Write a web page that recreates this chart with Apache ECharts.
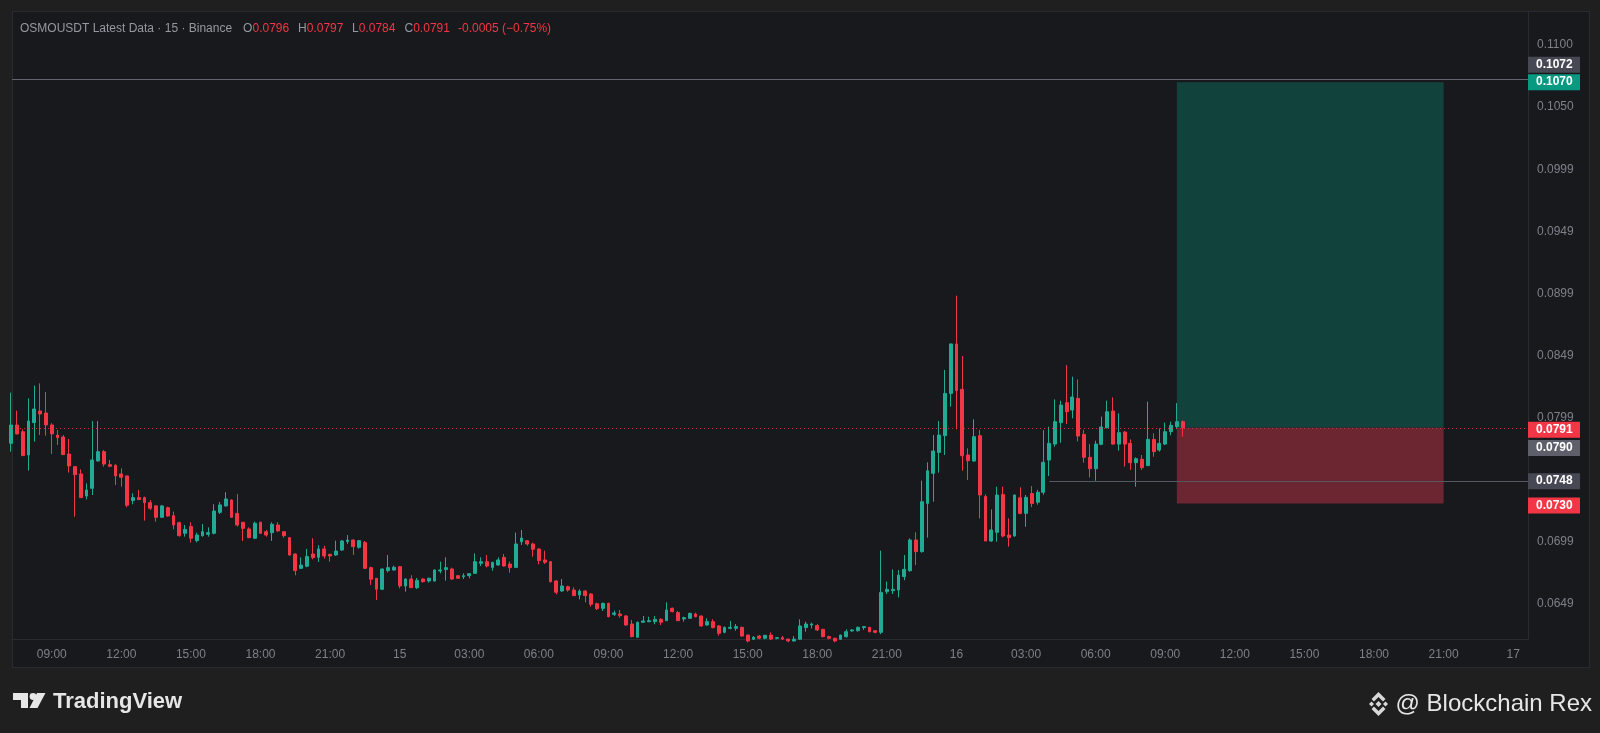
<!DOCTYPE html>
<html><head><meta charset="utf-8">
<script src="https://cdn.jsdelivr.net/npm/echarts@6/dist/echarts.min.js"></script>
<style>
html,body{margin:0;padding:0;background:#1f1f1f;}
#frame{position:absolute;left:12px;top:11px;width:1578px;height:657px;box-sizing:border-box;background:#18191d;border:1px solid #2a2b30;}
#c{position:absolute;left:0;top:0;width:1600px;height:733px;}
</style>
</head><body><div id="frame"></div><div id="c"></div>
<script>
// 15-minute slots counted from 00:00 on the 14th; first candle = 07:15 on the 14th
const firstSlot = 29;
const opens = [
0.07785,0.07933,0.07879,0.07691,0.07952,0.08046,0.08030,0.07933,0.07852,0.07836,
0.07699,0.07597,0.07538,0.07360,0.07422,0.07643,0.07718,0.07613,0.07608,0.07538,
0.07522,0.07323,0.07347,0.07347,0.07306,0.07280,0.07188,0.07266,0.07201,0.07145,
0.07059,0.07113,0.07000,0.07040,0.07051,0.07059,0.07228,0.07280,0.07328,0.07220,
0.07148,0.07094,0.07019,0.07148,0.07072,0.07064,0.07126,0.07072,0.07024,0.06892,
0.06776,0.06793,0.06892,0.06865,0.06933,0.06890,0.06884,0.06924,0.06992,0.07005,
0.06946,0.06984,0.06782,0.06696,0.06607,0.06758,0.06763,0.06790,0.06634,0.06690,
0.06620,0.06690,0.06674,0.06674,0.06755,0.06766,0.06771,0.06717,0.06709,0.06717,
0.06736,0.06817,0.06830,0.06784,0.06803,0.06865,0.06811,0.06784,0.06991,0.06999,
0.06973,0.06932,0.06844,0.06830,0.06674,0.06593,0.06628,0.06601,0.06561,0.06593,
0.06569,0.06491,0.06453,0.06494,0.06405,0.06408,0.06392,0.06327,0.06220,0.06341,
0.06346,0.06346,0.06365,0.06354,0.06454,0.06419,0.06368,0.06373,0.06408,0.06392,
0.06319,0.06346,0.06311,0.06260,0.06292,0.06292,0.06300,0.06238,0.06204,0.06230,
0.06212,0.06238,0.06212,0.06217,0.06205,0.06190,0.06204,0.06298,0.06319,0.06314,
0.06284,0.06225,0.06212,0.06204,0.06225,0.06271,0.06273,0.06298,0.06300,0.06273,
0.06260,0.06588,0.06596,0.06601,0.06709,0.06757,0.07005,0.06911,0.07300,0.07543,
0.07712,0.07847,0.08188,0.08587,0.08221,0.07691,0.07642,0.07847,0.07355,0.06997,
0.07067,0.07373,0.07045,0.07037,0.07346,0.07220,0.07380,0.07310,0.07390,0.07650,
0.07779,0.07952,0.08113,0.08054,0.08148,0.07857,0.07672,0.07580,0.07777,0.07911,
0.08046,0.07779,0.07876,0.07785,0.07629,0.07656,0.07605,0.07817,0.07731,0.07779,
0.07880,0.07920,0.07960];
const closes = [
0.07933,0.07861,0.07686,0.07965,0.08062,0.08022,0.07933,0.07861,0.07831,0.07694,
0.07602,0.07532,0.07347,0.07409,0.07651,0.07718,0.07618,0.07600,0.07522,0.07511,
0.07285,0.07347,0.07331,0.07306,0.07261,0.07188,0.07280,0.07199,0.07126,0.07040,
0.07091,0.07019,0.07045,0.07072,0.07064,0.07239,0.07288,0.07336,0.07188,0.07126,
0.07099,0.07024,0.07140,0.07059,0.07045,0.07132,0.07078,0.07040,0.06884,0.06758,
0.06803,0.06871,0.06863,0.06933,0.06876,0.06876,0.06916,0.06997,0.07005,0.06951,
0.07000,0.06776,0.06688,0.06607,0.06771,0.06782,0.06785,0.06634,0.06690,0.06620,
0.06679,0.06669,0.06696,0.06763,0.06763,0.06782,0.06690,0.06696,0.06717,0.06733,
0.06830,0.06830,0.06795,0.06825,0.06844,0.06795,0.06782,0.06973,0.07021,0.06973,
0.06930,0.06838,0.06825,0.06669,0.06583,0.06634,0.06601,0.06556,0.06593,0.06556,
0.06486,0.06451,0.06494,0.06386,0.06416,0.06395,0.06319,0.06225,0.06341,0.06352,
0.06354,0.06365,0.06341,0.06440,0.06427,0.06354,0.06378,0.06413,0.06386,0.06311,
0.06346,0.06298,0.06252,0.06300,0.06300,0.06306,0.06230,0.06190,0.06220,0.06212,
0.06236,0.06206,0.06217,0.06206,0.06190,0.06205,0.06311,0.06327,0.06327,0.06279,
0.06225,0.06212,0.06190,0.06238,0.06265,0.06279,0.06300,0.06306,0.06265,0.06260,
0.06582,0.06607,0.06607,0.06722,0.06768,0.07005,0.06911,0.07314,0.07564,0.07723,
0.07852,0.08188,0.08587,0.08210,0.07685,0.07645,0.07839,0.07368,0.06997,0.07086,
0.07368,0.07037,0.07024,0.07368,0.07220,0.07349,0.07300,0.07390,0.07632,0.07785,
0.07960,0.08094,0.08040,0.08159,0.07844,0.07672,0.07580,0.07779,0.07917,0.08040,
0.07779,0.07871,0.07779,0.07629,0.07661,0.07588,0.07817,0.07718,0.07785,0.07879,
0.07930,0.07960,0.07910];
const lows = [
0.07718,0.07858,0.07684,0.07565,0.07799,0.07852,0.07847,0.07699,0.07772,0.07692,
0.07549,0.07193,0.07345,0.07333,0.07368,0.07637,0.07597,0.07592,0.07449,0.07436,
0.07269,0.07293,0.07328,0.07161,0.07247,0.07153,0.07185,0.07193,0.07091,0.07032,
0.07032,0.06984,0.06986,0.07032,0.07032,0.07051,0.07215,0.07274,0.07185,0.07113,
0.06997,0.07019,0.07013,0.07054,0.07032,0.06997,0.07072,0.07024,0.06876,0.06720,
0.06771,0.06785,0.06849,0.06828,0.06855,0.06830,0.06876,0.06916,0.06973,0.06884,
0.06935,0.06771,0.06642,0.06521,0.06602,0.06744,0.06758,0.06615,0.06588,0.06618,
0.06609,0.06661,0.06661,0.06669,0.06736,0.06677,0.06682,0.06694,0.06690,0.06696,
0.06731,0.06795,0.06784,0.06757,0.06798,0.06790,0.06741,0.06782,0.06965,0.06959,
0.06870,0.06809,0.06811,0.06661,0.06566,0.06588,0.06588,0.06553,0.06526,0.06502,
0.06467,0.06440,0.06432,0.06381,0.06392,0.06378,0.06311,0.06220,0.06217,0.06338,
0.06341,0.06325,0.06319,0.06352,0.06421,0.06352,0.06346,0.06368,0.06381,0.06306,
0.06314,0.06292,0.06233,0.06252,0.06284,0.06273,0.06225,0.06179,0.06198,0.06204,
0.06204,0.06198,0.06204,0.06198,0.06180,0.06185,0.06198,0.06265,0.06292,0.06271,
0.06220,0.06204,0.06180,0.06198,0.06217,0.06265,0.06265,0.06279,0.06260,0.06252,
0.06245,0.06569,0.06569,0.06542,0.06680,0.06749,0.06803,0.06903,0.07024,0.07314,
0.07548,0.07691,0.08081,0.07898,0.07564,0.07489,0.07637,0.07180,0.06995,0.06991,
0.06991,0.07026,0.06951,0.07032,0.07212,0.07112,0.07270,0.07290,0.07370,0.07521,
0.07758,0.07790,0.07941,0.07987,0.07800,0.07629,0.07510,0.07483,0.07771,0.07906,
0.07774,0.07726,0.07597,0.07570,0.07435,0.07570,0.07602,0.07677,0.07718,0.07771,
0.07850,0.07900,0.07840];
const highs = [
0.08194,0.08049,0.07898,0.08148,0.08251,0.08269,0.08200,0.07947,0.07893,0.07852,
0.07820,0.07602,0.07575,0.07462,0.07965,0.07965,0.07731,0.07651,0.07616,0.07583,
0.07524,0.07382,0.07409,0.07355,0.07328,0.07288,0.07288,0.07274,0.07234,0.07153,
0.07126,0.07148,0.07064,0.07134,0.07107,0.07293,0.07312,0.07390,0.07333,0.07376,
0.07150,0.07107,0.07153,0.07153,0.07086,0.07148,0.07148,0.07074,0.07026,0.06898,
0.06865,0.06933,0.07019,0.06962,0.06957,0.06892,0.07000,0.07005,0.07045,0.07010,
0.07005,0.06997,0.06790,0.06698,0.06776,0.06884,0.06798,0.06795,0.06696,0.06720,
0.06698,0.06696,0.06701,0.06768,0.06830,0.06865,0.06782,0.06719,0.06736,0.06736,
0.06897,0.06865,0.06884,0.06827,0.06865,0.06892,0.06830,0.07064,0.07086,0.07005,
0.06983,0.06938,0.06919,0.06835,0.06682,0.06690,0.06636,0.06623,0.06607,0.06601,
0.06576,0.06499,0.06499,0.06499,0.06435,0.06440,0.06400,0.06360,0.06346,0.06392,
0.06386,0.06392,0.06373,0.06502,0.06459,0.06432,0.06386,0.06419,0.06419,0.06394,
0.06373,0.06365,0.06319,0.06306,0.06352,0.06327,0.06306,0.06240,0.06230,0.06238,
0.06238,0.06260,0.06220,0.06230,0.06208,0.06230,0.06365,0.06346,0.06338,0.06327,
0.06286,0.06233,0.06215,0.06240,0.06284,0.06284,0.06306,0.06311,0.06302,0.06279,
0.06919,0.06669,0.06768,0.06763,0.06884,0.07018,0.07067,0.07484,0.07632,0.07852,
0.07965,0.08377,0.08590,0.08977,0.08490,0.07745,0.07979,0.07893,0.07373,0.07252,
0.07435,0.07435,0.07180,0.07373,0.07430,0.07368,0.07440,0.07410,0.07892,0.07919,
0.08140,0.08129,0.08417,0.08323,0.08301,0.07892,0.07779,0.07806,0.08000,0.08129,
0.08156,0.08027,0.07884,0.07817,0.07672,0.07691,0.08121,0.07866,0.07906,0.07952,
0.07960,0.08110,0.07970];

const timeTickSlots = [36,48,60,72,84,96,108,120,132,144,156,168,180,192,204,216,228,240,252,264,276,288];
const timeTickLabels = ['09:00','12:00','15:00','18:00','21:00','15','03:00','06:00','09:00','12:00','15:00','18:00','21:00','16','03:00','06:00','09:00','12:00','15:00','18:00','21:00','17'];
const priceTicks = [0.0649,0.0699,0.0749,0.0799,0.0849,0.0899,0.0949,0.0999,0.1050,0.1100];

const entryPrice = 0.0791, targetPrice = 0.1070, stopPrice = 0.0730;
const positionStartSlot = 230, positionEndSlot = 276;
const resistanceLevel = 0.1072;
const supportLevel = 0.0748, supportStartSlot = 208;
const lastPrice = 0.0791, markPrice = 0.0790;

const xMin = 29.15, xMax = 290.55;
const yMin = 0.06206, yMax = 0.11274;

const UP = '#22ab94', DOWN = '#f23645';
const FONT = '"Liberation Sans", Arial, sans-serif';
const HIDDEN_LINE = {width: 0, color: 'rgba(0,0,0,0)'};

const candles = opens.map((o, i) => [firstSlot + i, o, closes[i], lows[i], highs[i]]);

function tag(bg, text, dy) {
  return {
    show: true, position: 'end', distance: 0, formatter: text,
    backgroundColor: bg, color: '#ffffff', fontWeight: 'bold', fontSize: 12,
    fontFamily: FONT, lineHeight: 12, padding: [2, 7, 2, 8], width: 37,
    offset: [0, dy], opacity: 1
  };
}

const chart = echarts.init(document.getElementById('c'), null, {renderer: 'canvas'});
chart.setOption({
  backgroundColor: 'transparent',
  animation: false,
  grid: {left: 12, top: 11, width: 1516, height: 628, containLabel: false},
  xAxis: {
    type: 'value', min: xMin, max: xMax,
    axisLine: {show: true, lineStyle: {color: '#2a2b30', width: 1}},
    axisTick: {show: false},
    splitLine: {show: false},
    axisLabel: {
      customValues: timeTickSlots,
      formatter: v => { const k = timeTickSlots.indexOf(Math.round(v)); return k >= 0 ? timeTickLabels[k] : ''; },
      color: '#7d8089', fontSize: 12, fontFamily: FONT, margin: 10
    }
  },
  yAxis: {
    type: 'value', position: 'right', min: yMin, max: yMax,
    axisLine: {show: true, lineStyle: {color: '#2a2b30', width: 1}},
    axisTick: {show: false},
    splitLine: {show: false},
    axisLabel: {
      customValues: priceTicks,
      formatter: v => v.toFixed(4),
      color: '#7d8089', fontSize: 12, fontFamily: FONT, margin: 9
    }
  },
  series: [{
    type: 'candlestick',
    data: candles,
    encode: {x: 0, y: [1, 2, 3, 4]},
    barWidth: 3.4,
    itemStyle: {color: UP, color0: DOWN, borderColor: UP, borderColor0: DOWN, borderWidth: 1},
    markArea: {
      silent: true,
      data: [
        [{coord: [positionStartSlot, targetPrice], itemStyle: {color: '#12423c'}}, {coord: [positionEndSlot, entryPrice]}],
        [{coord: [positionStartSlot, entryPrice], itemStyle: {color: '#6c2631'}}, {coord: [positionEndSlot, stopPrice]}]
      ]
    },
    markLine: {
      silent: true, symbol: ['none', 'none'], animation: false, precision: 6,
      data: [
        {yAxis: resistanceLevel, lineStyle: {color: '#62656f', width: 1, type: 'solid'}, label: tag('#464953', resistanceLevel.toFixed(4), -15)},
        {yAxis: targetPrice, lineStyle: HIDDEN_LINE, label: tag('#089981', targetPrice.toFixed(4), 0)},
        [{coord: [supportStartSlot, supportLevel], lineStyle: {color: '#54575f', width: 1, type: 'solid'}, label: tag('#464953', supportLevel.toFixed(4), 0)}, {coord: [xMax, supportLevel]}],
        {yAxis: markPrice, lineStyle: HIDDEN_LINE, label: tag('#5d606b', markPrice.toFixed(4), 19)},
        {yAxis: lastPrice, lineStyle: {color: '#f23645', width: 1, type: [1, 3], opacity: 0.8}, label: Object.assign(tag('#f23645', lastPrice.toFixed(4), 2))},
        {yAxis: stopPrice, lineStyle: HIDDEN_LINE, label: tag('#f23645', stopPrice.toFixed(4), 2)}
      ]
    }
  }],
  graphic: [
    {type: 'text', x: 20, y: 29, style: {text: 'OSMOUSDT Latest Data · 15 · Binance', fill: '#9598a1', font: '12px ' + FONT, textVerticalAlign: 'middle'}},
    {type: 'text', x: 243, y: 29, style: {text: 'O', fill: '#9598a1', font: '12px ' + FONT, textVerticalAlign: 'middle'}},
    {type: 'text', x: 252.5, y: 29, style: {text: '0.0796', fill: DOWN, font: '12px ' + FONT, textVerticalAlign: 'middle'}},
    {type: 'text', x: 298, y: 29, style: {text: 'H', fill: '#9598a1', font: '12px ' + FONT, textVerticalAlign: 'middle'}},
    {type: 'text', x: 306.7, y: 29, style: {text: '0.0797', fill: DOWN, font: '12px ' + FONT, textVerticalAlign: 'middle'}},
    {type: 'text', x: 352, y: 29, style: {text: 'L', fill: '#9598a1', font: '12px ' + FONT, textVerticalAlign: 'middle'}},
    {type: 'text', x: 358.7, y: 29, style: {text: '0.0784', fill: DOWN, font: '12px ' + FONT, textVerticalAlign: 'middle'}},
    {type: 'text', x: 404.5, y: 29, style: {text: 'C', fill: '#9598a1', font: '12px ' + FONT, textVerticalAlign: 'middle'}},
    {type: 'text', x: 413.2, y: 29, style: {text: '0.0791', fill: DOWN, font: '12px ' + FONT, textVerticalAlign: 'middle'}},
    {type: 'text', x: 458, y: 29, style: {text: '-0.0005 (\u22120.75%)', fill: DOWN, font: '12px ' + FONT, textVerticalAlign: 'middle'}},
    // TradingView logo
    {type: 'rect', shape: {x: 13, y: 693, width: 15, height: 7}, style: {fill: '#e6e6e6'}},
    {type: 'rect', shape: {x: 21, y: 693, width: 7, height: 15}, style: {fill: '#e6e6e6'}},
    {type: 'circle', shape: {cx: 33, cy: 696.5, r: 3.4}, style: {fill: '#e6e6e6'}},
    {type: 'polygon', shape: {points: [[37, 693], [45.5, 693], [37.5, 708], [29.5, 708]]}, style: {fill: '#e6e6e6'}},
    {type: 'text', x: 53, y: 702, style: {text: 'TradingView', fill: '#e6e6e6', font: 'bold 22px ' + FONT, textVerticalAlign: 'middle'}},
    // Binance-style logo
    {type: 'polygon', shape: {points: [[1378.5, 701], [1381.5, 704], [1378.5, 707], [1375.5, 704]]}, style: {fill: '#d8d8d8'}},
    {type: 'polygon', shape: {points: [[1371.5, 701.5], [1374, 704], [1371.5, 706.5], [1369, 704]]}, style: {fill: '#d8d8d8'}},
    {type: 'polygon', shape: {points: [[1385.5, 701.5], [1388, 704], [1385.5, 706.5], [1383, 704]]}, style: {fill: '#d8d8d8'}},
    {type: 'polygon', shape: {points: [[1371.5, 699], [1378.5, 692], [1385.5, 699], [1383, 701.5], [1378.5, 697], [1374, 701.5]]}, style: {fill: '#d8d8d8'}},
    {type: 'polygon', shape: {points: [[1371.5, 709], [1378.5, 716], [1385.5, 709], [1383, 706.5], [1378.5, 711], [1374, 706.5]]}, style: {fill: '#d8d8d8'}},
    {type: 'text', x: 1592, y: 704, style: {text: '@ Blockchain Rex', fill: '#e6e6e6', font: '24px ' + FONT, textAlign: 'right', textVerticalAlign: 'middle'}}
  ]
});
</script>
</body></html>
